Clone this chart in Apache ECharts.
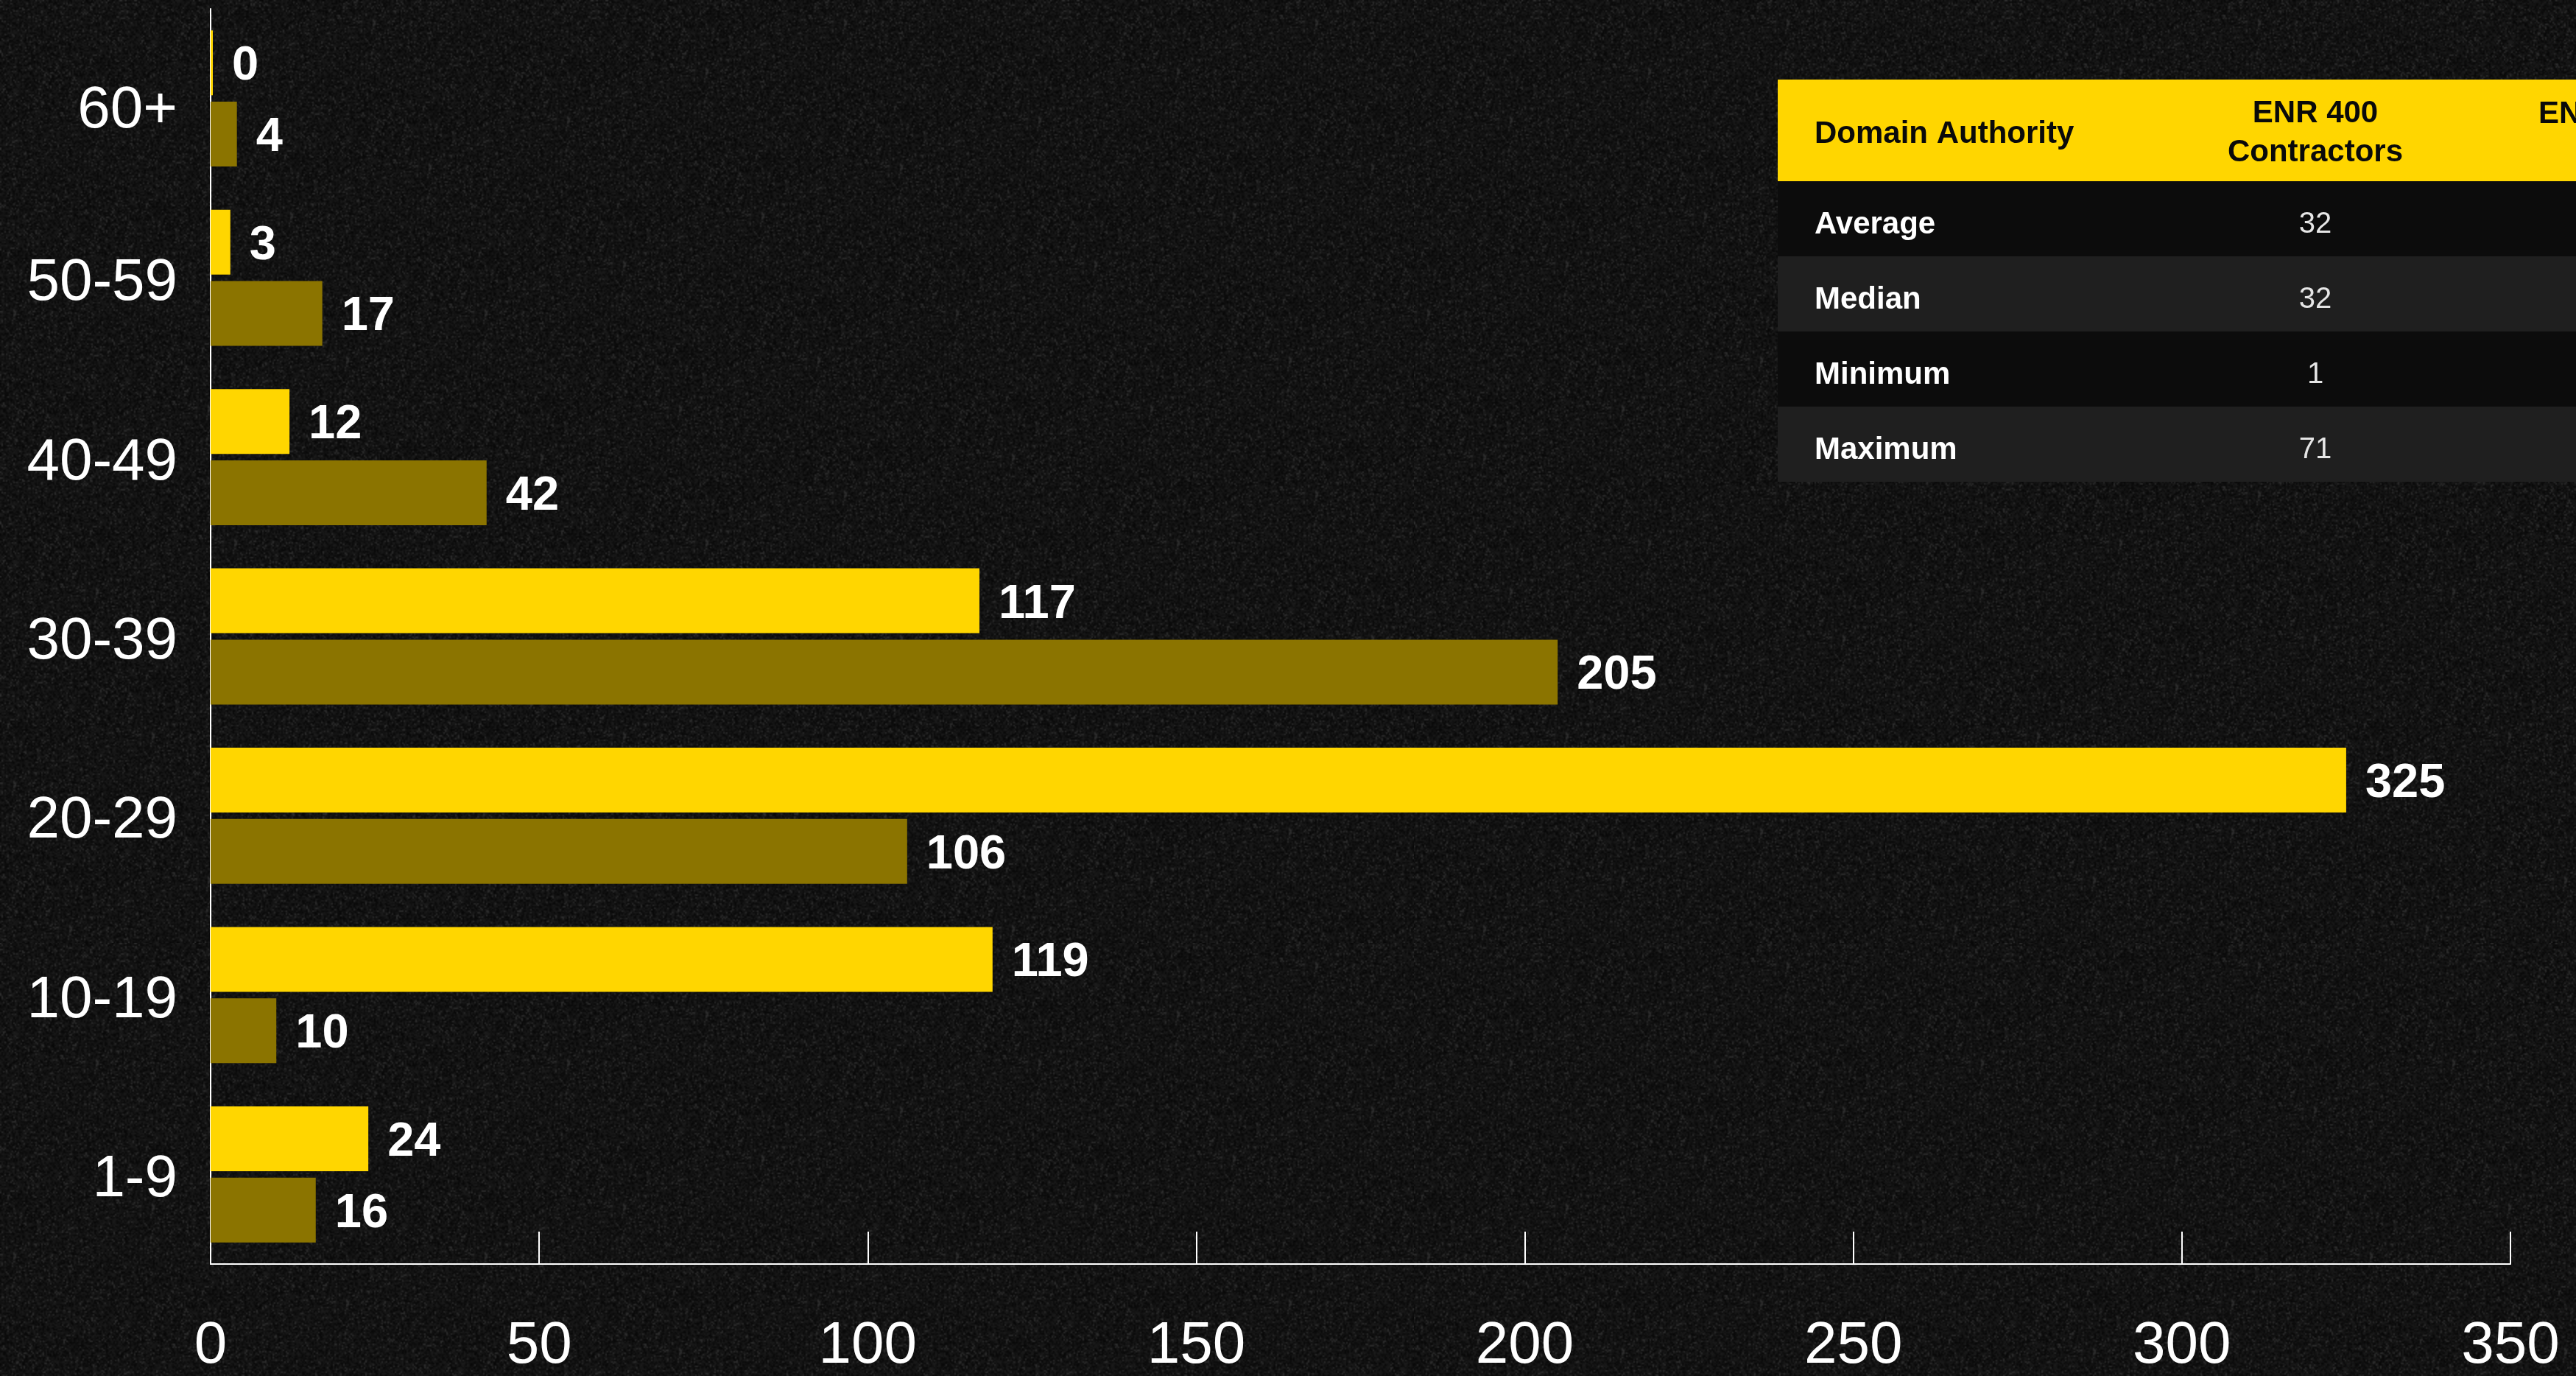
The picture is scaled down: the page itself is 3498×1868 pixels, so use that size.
<!DOCTYPE html>
<html>
<head>
<meta charset="utf-8">
<script src="https://cdn.jsdelivr.net/npm/echarts@6/dist/echarts.min.js"></script>
<style>
  html, body { margin: 0; padding: 0; background: #101010; overflow: hidden; }
  #chart { width: 3498px; height: 1868px; }
</style>
</head>
<body>
<div id="chart"></div>
<script>
// Domain Authority buckets, bottom to top
const categories = ['1-9', '10-19', '20-29', '30-39', '40-49', '50-59', '60+'];
// ENR 400 contractors per bucket
const enr400Counts = [24, 119, 325, 117, 12, 3, 0];
// Comparison group per bucket
const comparisonCounts = [16, 10, 106, 205, 42, 17, 4];
// Value axis ticks
const axisMin = 0;
const axisMax = 350;
const axisStep = 50;

// Summary table
const tableHeaders = ['Domain Authority', 'ENR 400\nContractors', 'ENR'];
const tableRowNames = ['Average', 'Median', 'Minimum', 'Maximum'];
const tableEnr400 = [32, 32, 1, 71];

const FONT = '"Liberation Sans", Arial, Helvetica, sans-serif';
const YELLOW = '#FFD600';
const OLIVE = '#8B7400';

// Granite-like dark texture for the page background
(function paintTexture() {
  const small = document.createElement('canvas');
  small.width = 320; small.height = 320;
  const sctx = small.getContext('2d');
  const img = sctx.createImageData(320, 320);
  let seed = 1234567;
  function next() { seed = (seed * 1103515245 + 12345) & 0x7fffffff; return seed / 0x7fffffff; }
  for (let i = 0; i < 320 * 320; i++) {
    const r = next();
    let v = 8 + Math.floor(r * 22);
    if (r > 0.93) v += 16;
    img.data[i * 4] = v; img.data[i * 4 + 1] = v; img.data[i * 4 + 2] = v; img.data[i * 4 + 3] = 255;
  }
  sctx.putImageData(img, 0, 0);
  const big = document.createElement('canvas');
  big.width = 640; big.height = 640;
  const bctx = big.getContext('2d');
  bctx.imageSmoothingEnabled = true;
  bctx.drawImage(small, 0, 0, 640, 640);
  document.body.style.backgroundImage = 'url(' + big.toDataURL() + ')';
})();

const chart = echarts.init(document.getElementById('chart'), null, { renderer: 'canvas' });

// Table graphic built from the table arrays
const tableLeft = 2414, tableTop = 108, headerH = 138, rowH = 102, tableW = 1200;
const col1X = 2464, col2X = 3144, col3X = 3447;
const tableGraphics = [];
tableGraphics.push({ type: 'rect', left: tableLeft, top: tableTop, shape: { width: tableW, height: headerH }, style: { fill: YELLOW }, z: 10 });
tableGraphics.push({ type: 'text', x: col1X, y: tableTop + headerH / 2 + 5, style: { text: tableHeaders[0], fill: '#0a0a0a', font: 'bold 42px ' + FONT, textAlign: 'left', textVerticalAlign: 'middle' }, z: 11 });
tableGraphics.push({ type: 'text', x: col2X, y: tableTop + headerH / 2 + 4, style: { text: tableHeaders[1], fill: '#0a0a0a', font: 'bold 42px ' + FONT, textAlign: 'center', textVerticalAlign: 'middle', lineHeight: 53 }, z: 11 });
tableGraphics.push({ type: 'text', x: col3X, y: tableTop + headerH / 2 - 22, style: { text: tableHeaders[2], fill: '#0a0a0a', font: 'bold 42px ' + FONT, textAlign: 'left', textVerticalAlign: 'middle' }, z: 11 });
tableRowNames.forEach(function (name, i) {
  const y = tableTop + headerH + i * rowH;
  tableGraphics.push({ type: 'rect', left: tableLeft, top: y, shape: { width: tableW, height: rowH }, style: { fill: i % 2 === 0 ? '#0c0c0c' : '#1f1f1f' }, z: 10 });
  tableGraphics.push({ type: 'text', x: col1X, y: y + rowH / 2 + 8, style: { text: name, fill: '#ffffff', font: 'bold 42px ' + FONT, textAlign: 'left', textVerticalAlign: 'middle' }, z: 11 });
  tableGraphics.push({ type: 'text', x: col2X, y: y + rowH / 2 + 8, style: { text: String(tableEnr400[i]), fill: '#e6e6e6', font: '40px ' + FONT, textAlign: 'center', textVerticalAlign: 'middle' }, z: 11 });
});

const valueLabel = {
  show: true,
  position: 'right',
  distance: 26,
  offset: [0, 5],
  color: '#ffffff',
  fontFamily: FONT,
  fontWeight: 'bold',
  fontSize: 65
};

const topCategory = categories[categories.length - 1];

chart.setOption({
  backgroundColor: 'transparent',
  animation: false,
  grid: { left: 286, right: 89, top: 12, bottom: 150, containLabel: false },
  xAxis: {
    type: 'value',
    min: axisMin,
    max: axisMax,
    interval: axisStep,
    axisLine: { show: true, lineStyle: { color: '#ffffff', width: 2 } },
    axisTick: { show: true, inside: true, length: 44, lineStyle: { color: '#ffffff', width: 2 } },
    splitLine: { show: false },
    axisLabel: { color: '#ffffff', fontFamily: FONT, fontSize: 80, margin: 72 }
  },
  yAxis: {
    type: 'category',
    data: categories,
    axisLine: { show: true, lineStyle: { color: '#ffffff', width: 2 } },
    axisTick: { show: false },
    axisLabel: {
      color: '#ffffff',
      fontFamily: FONT,
      fontSize: 80,
      margin: 45,
      formatter: function (v) { return v === topCategory ? '{low|' + v + '}' : '{std|' + v + '}'; },
      rich: {
        std: { color: '#ffffff', fontFamily: FONT, fontSize: 80, padding: [16, 0, 0, 0] },
        low: { color: '#ffffff', fontFamily: FONT, fontSize: 80, padding: [34, 0, 0, 0] }
      }
    }
  },
  series: [
    {
      name: 'ENR 400 Contractors',
      type: 'bar',
      data: enr400Counts,
      barWidth: 88,
      barGap: '10%',
      barMinHeight: 3,
      itemStyle: { color: YELLOW },
      label: valueLabel
    },
    {
      name: 'Comparison group',
      type: 'bar',
      data: comparisonCounts,
      barWidth: 88,
      barGap: '10%',
      itemStyle: { color: OLIVE },
      label: valueLabel
    }
  ],
  graphic: tableGraphics
});
</script>
</body>
</html>
